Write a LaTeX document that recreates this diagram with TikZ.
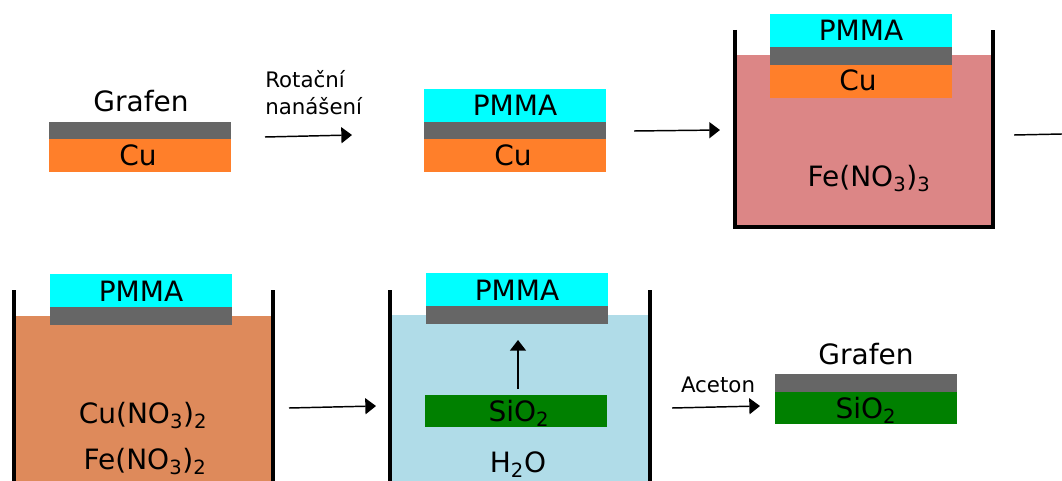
\documentclass[tikz,border=0pt]{standalone}
\usepackage{fontspec}
\setmainfont{DejaVu Sans}
\usetikzlibrary{arrows.meta}
\definecolor{graf}{HTML}{666666}
\definecolor{pmma}{HTML}{00FFFF}
\definecolor{cumetal}{HTML}{FF7F2A}
\definecolor{feliq}{HTML}{DC8686}
\definecolor{culiq}{HTML}{DE8A5B}
\definecolor{water}{HTML}{B0DCE8}
\definecolor{sio}{HTML}{008000}
\begin{document}
\begin{tikzpicture}[x=0.75pt,y=-0.75pt,
  big/.style={font=\fontsize{21}{25}\selectfont, anchor=base, inner sep=0pt},
  small/.style={font=\fontsize{16}{19}\selectfont, anchor=base, inner sep=0pt},
  wall/.style={line width=3pt, line join=miter},
  arr/.style={line width=1.1pt, -{Triangle[length=8pt,width=12pt]}}]
\useasboundingbox (0,0) rectangle (1062,481);
\fill[white] (0,0) rectangle (1062,481);

% ---------- Panel 1: Grafen on Cu ----------
\fill[graf] (49,122) rectangle (231,139);
\fill[cumetal] (49,139) rectangle (231,172);
\node[big] (g1) at (141,112) {Grafen};
\node[big] (cu1) at (138,166) {Cu};

% arrow 1
\coordinate (a1s) at (265,137);
\coordinate (a1e) at (352,135);
\draw[arr] (a1s) -- (a1e);
\node[small, anchor=base west] (rot1) at (265,88) {Rotační};
\node[small, anchor=base west] (rot2) at (265,115) {nanášení};

% ---------- Panel 2: PMMA / Grafen / Cu ----------
\fill[pmma] (424,89) rectangle (606,122);
\fill[graf] (424,122) rectangle (606,139);
\fill[cumetal] (424,139) rectangle (606,172);
\node[big] (pm2) at (515,116) {PMMA};
\node[big] (cu2) at (513,166) {Cu};

% arrow 2
\coordinate (a2s) at (634,131);
\coordinate (a2e) at (720,130);
\draw[arr] (a2s) -- (a2e);

% ---------- Panel 3: beaker Fe(NO3)3 ----------
\fill[feliq] (735,55) rectangle (993,227);
\draw[wall] (735,30) -- (735,227) -- (993,227) -- (993,30);
\fill[pmma] (770,14) rectangle (952,47);
\fill[graf] (770,47) rectangle (952,65);
\fill[cumetal] (770,65) rectangle (952,98);
\node[big] (pm3) at (861,41) {PMMA};
\node[big] (cu3) at (858,91) {Cu};
\node[big] (fe3) at (869,186) {Fe(NO\textsubscript{3})\textsubscript{3}};

% arrow 3 (runs off the right edge)
\coordinate (a3s) at (1014,135);
\coordinate (a3e) at (1062,134);
\draw[line width=1.1pt] (a3s) -- (a3e);

% ---------- Panel 4: beaker Cu(NO3)2, Fe(NO3)2 ----------
\fill[culiq] (14,316) rectangle (273,485);
\draw[wall] (14,290) -- (14,490);
\draw[wall] (273,290) -- (273,490);
\fill[pmma] (50,274) rectangle (232,307);
\fill[graf] (50,307) rectangle (232,325);
\node[big] (pm4) at (141,301) {PMMA};
\node[big] (cuno) at (143,423) {Cu(NO\textsubscript{3})\textsubscript{2}};
\node[big] (feno) at (145,469) {Fe(NO\textsubscript{3})\textsubscript{2}};

% arrow 4
\coordinate (a4s) at (289,408);
\coordinate (a4e) at (376,406);
\draw[arr] (a4s) -- (a4e);

% ---------- Panel 5: beaker H2O ----------
\fill[water] (390,315) rectangle (650,485);
\draw[wall] (390,290) -- (390,490);
\draw[wall] (650,290) -- (650,490);
\fill[pmma] (426,273) rectangle (608,306);
\fill[graf] (426,306) rectangle (608,324);
\fill[sio] (425,395) rectangle (607,427);
\node[big] (pm5) at (517,300) {PMMA};
\node[big] (si5) at (519,421) {SiO\textsubscript{2}};
\node[big] (h2o) at (518,472) {H\textsubscript{2}O};
\coordinate (upS) at (518,389);
\coordinate (upE) at (518,340);
\draw[arr] (upS) -- (upE);

% arrow 5
\coordinate (a5s) at (672,408);
\coordinate (a5e) at (760,406);
\draw[arr] (a5s) -- (a5e);
\node[small] (ac) at (718,392) {Aceton};

% ---------- Panel 6: Grafen on SiO2 ----------
\fill[graf] (775,374) rectangle (957,392);
\fill[sio] (775,392) rectangle (957,424);
\node[big] (g6) at (866,364) {Grafen};
\node[big] (si6) at (866,418) {SiO\textsubscript{2}};
\end{tikzpicture}
\end{document}
